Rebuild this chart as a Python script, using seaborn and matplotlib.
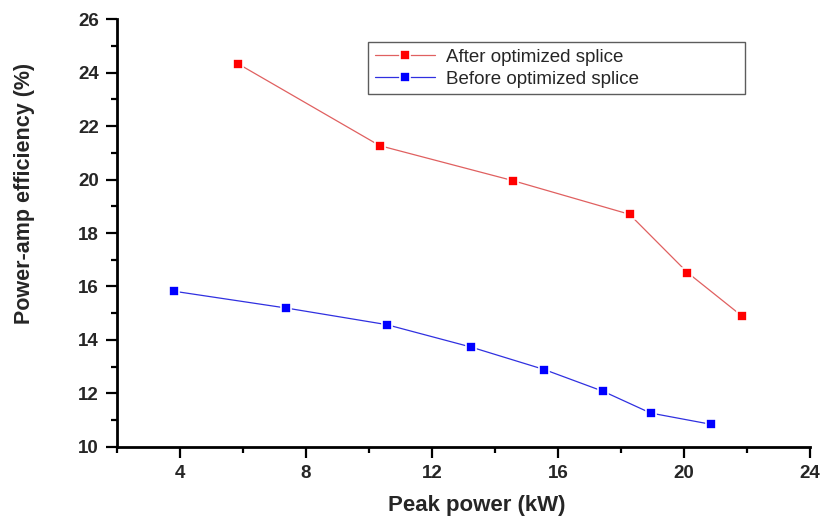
import matplotlib
matplotlib.use("Agg")
import matplotlib.pyplot as plt
import seaborn as sns
import pandas as pd
from matplotlib.ticker import MultipleLocator

after_x = [5.85, 10.34, 14.57, 18.27, 20.11, 21.83]
after_y = [24.33, 21.27, 19.96, 18.70, 16.52, 14.90]
before_x = [3.81, 7.38, 10.56, 13.24, 15.56, 17.44, 18.94, 20.85]
before_y = [15.82, 15.19, 14.57, 13.73, 12.89, 12.07, 11.26, 10.84]
labels = ["After optimized splice", "Before optimized splice"]

df = pd.concat([
    pd.DataFrame({"x": after_x, "y": after_y, "series": labels[0]}),
    pd.DataFrame({"x": before_x, "y": before_y, "series": labels[1]}),
])

sns.set_style("ticks")
plt.rcParams["font.family"] = ["Liberation Sans", "DejaVu Sans"]

fig = plt.figure(figsize=(8.36, 5.21), dpi=100)
ax = fig.add_axes([117/836, 1-446.7/521, (810-117)/836, (446.7-19.3)/521])

sns.lineplot(data=df, x="x", y="y", hue="series", palette=["#ff0000", "#0000ff"],
             marker="s", markersize=7.5, markeredgecolor="white", markeredgewidth=1.2,
             linewidth=0.9, sort=False, estimator=None, ax=ax)

marker_faces = ["#ff0000", "#0000ff"]
line_cols = ["#e06060", "#3030e0"]
for i, ln in enumerate(ax.lines):
    ln.set_color(line_cols[i % 2])
    ln.set_markerfacecolor(marker_faces[i % 2])

ax.set_xlim(2, 24)
ax.set_ylim(10, 26)
ax.xaxis.set_major_locator(MultipleLocator(4))
ax.xaxis.set_minor_locator(MultipleLocator(2))
ax.yaxis.set_major_locator(MultipleLocator(2))
ax.yaxis.set_minor_locator(MultipleLocator(1))
ax.set_xticks([4, 8, 12, 16, 20, 24])
ax.set_yticks([10, 12, 14, 16, 18, 20, 22, 24, 26])
ax.tick_params(axis="both", which="major", direction="out", length=8, width=1.6,
               labelsize=13.5, color="black", pad=5)
ax.tick_params(axis="both", which="minor", direction="out", length=4.5, width=1.6, color="black")
for lab in ax.get_xticklabels() + ax.get_yticklabels():
    lab.set_fontweight("bold")

for s in ["top", "right"]:
    ax.spines[s].set_visible(False)
for s in ["left", "bottom"]:
    ax.spines[s].set_linewidth(2)
    ax.spines[s].set_color("black")

ax.set_xlabel("Peak power (kW)", fontsize=16, fontweight="bold")
ax.set_ylabel("Power-amp efficiency (%)", fontsize=15.5, fontweight="bold")
ax.xaxis.set_label_coords((477-117)/693, -(505-446.7)/427.4)
ax.yaxis.set_label_coords((25-117)/693, 1-(193-19.3)/427.4)
ax.xaxis.label.set_va("center")
ax.yaxis.label.set_va("center")

handles, _ = ax.get_legend_handles_labels()
leg = ax.legend(handles, labels, loc="upper left",
                bbox_to_anchor=((368-117)/693, 1-(101-19.3)/427.4, (745-368)/693, (101-42)/427.4),
                mode="expand", frameon=True, fancybox=False, edgecolor="#333333",
                fontsize=13.5, handlelength=3.2, borderpad=0.35, labelspacing=0.25,
                handletextpad=0.6, borderaxespad=0)
leg.get_frame().set_linewidth(1.0)

fig.savefig("out.png", dpi=100)
